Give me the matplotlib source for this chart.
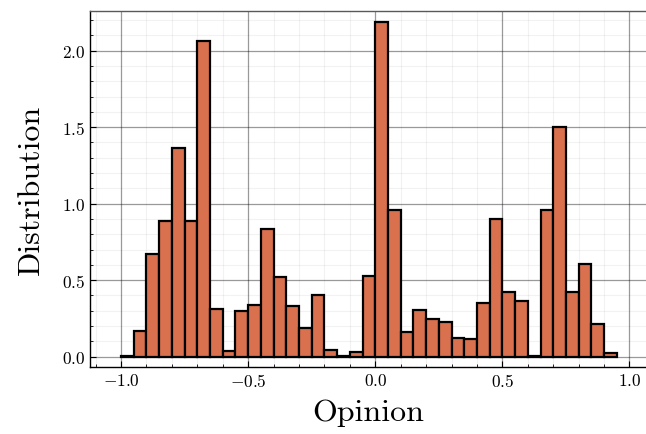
import numpy as np
import matplotlib.pyplot as plt
from matplotlib.ticker import MultipleLocator

plt.rcParams['font.family'] = 'cmr10'
plt.rcParams['mathtext.fontset'] = 'cm'
plt.rcParams['axes.formatter.use_mathtext'] = True

# bin left edges (width 0.05) and normalized heights
bin_width = 0.05
bin_left = np.round(np.arange(39) * bin_width - 1.0, 2)
density = [0.005, 0.168, 0.673, 0.887, 1.362, 0.889, 2.063, 0.312, 0.035, 0.298,
           0.338, 0.832, 0.521, 0.333, 0.190, 0.403, 0.046, 0.004, 0.030, 0.527,
           2.190, 0.956, 0.161, 0.303, 0.244, 0.227, 0.124, 0.113, 0.353, 0.902,
           0.423, 0.362, 0.004, 0.956, 1.501, 0.420, 0.606, 0.214, 0.024]

fig = plt.figure(figsize=(6.46, 4.35), dpi=100)
ax = fig.add_axes([90/646, 67/435, 555.5/646, 356/435])

ax.bar(bin_left, density, width=bin_width, align='edge',
       color='#d9714f', edgecolor='black', linewidth=1.6, zorder=3)

ax.set_xlim(-1.122, 1.063)
ax.set_ylim(-0.068, 2.259)
ax.xaxis.set_major_locator(MultipleLocator(0.5))
ax.xaxis.set_minor_locator(MultipleLocator(0.1))
ax.yaxis.set_major_locator(MultipleLocator(0.5))
ax.yaxis.set_minor_locator(MultipleLocator(0.1))
ax.xaxis.set_major_formatter(plt.FuncFormatter(lambda v, p: r'$%.1f$' % v))
ax.yaxis.set_major_formatter(plt.FuncFormatter(lambda v, p: r'$%.1f$' % v))

ax.grid(which='major', color='black', alpha=0.4, linewidth=0.9, zorder=0)
ax.grid(which='minor', color='black', alpha=0.05, linewidth=0.8, zorder=0)
ax.tick_params(which='both', direction='in', top=False, right=False,
               labelsize=12.5, color='black')
ax.tick_params(which='major', length=4, width=0.8)
ax.tick_params(which='minor', length=2.5, width=0.6)
for side in ['left', 'bottom', 'top', 'right']:
    ax.spines[side].set_linewidth(1.0)
ax.spines['top'].set_color('0.35')
ax.spines['right'].set_visible(False)

ax.set_xlabel('Opinion', fontsize=23, labelpad=7)
ax.set_ylabel('Distribution', fontsize=23, labelpad=12)

plt.savefig('out.png', dpi=100)
